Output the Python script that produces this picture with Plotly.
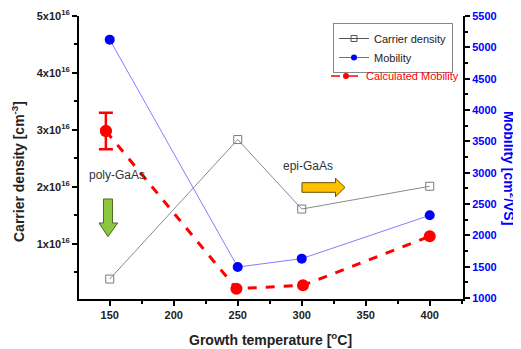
import plotly.graph_objects as go

# ---- data ----
temps = [150, 250, 300, 400]
carrier_density = [0.38e16, 2.83e16, 1.61e16, 2.01e16]
mobility = [5123, 1495, 1629, 2320]
calc_temps = [147, 249, 301, 400]
calc_mobility = [3665, 1150, 1203, 1985]
calc_err_temp = [147]
calc_err_val = [3665]
calc_err = [290]

left_tickvals = [1e16, 2e16, 3e16, 4e16, 5e16]
left_ticktext = ["%dx10<sup>16</sup>" % i for i in range(1, 6)]
right_tickvals = [1000, 1500, 2000, 2500, 3000, 3500, 4000, 4500, 5000, 5500]
x_tickvals = [150, 200, 250, 300, 350, 400]

FONT = "Liberation Sans, Arial, sans-serif"
OFF = 8  # page body margin
W, H = 521 - OFF, 349 - OFF
L, R, T, B = 79 - OFF, 463 - OFF, 16 - OFF, 299 - OFF

def px(x):
    return (x - OFF - L) / (R - L)

def py(y):
    return (B - (y - OFF)) / (B - T)

fig = go.Figure()

fig.add_trace(go.Scatter(
    x=temps, y=carrier_density, name="Carrier density", mode="lines+markers", showlegend=False,
    line=dict(color="#8a8a8a", width=1),
    marker=dict(symbol="square-open", size=8, color="#7a7a7a", line=dict(width=1)),
    yaxis="y"))

fig.add_trace(go.Scatter(
    x=temps, y=mobility, name="Mobility", mode="lines+markers", showlegend=False,
    line=dict(color="#8080ff", width=1),
    marker=dict(symbol="circle", size=10, color="#0000ff"),
    yaxis="y2"))

fig.add_trace(go.Scatter(
    x=calc_temps, y=calc_mobility, name="Calculated Mobility", mode="lines+markers", showlegend=False,
    line=dict(color="#ff0000", width=3, dash="dash"),
    marker=dict(symbol="circle", size=12, color="#ff0000"),
    yaxis="y2"))

fig.add_trace(go.Scatter(
    x=calc_err_temp, y=calc_err_val, mode="markers", showlegend=False,
    marker=dict(size=12, color="#ff0000"),
    error_y=dict(type="data", array=calc_err, color="#ff0000", thickness=2.5, width=7),
    yaxis="y2"))

# legend-only entries with small symbols
fig.add_trace(go.Scatter(x=[None], y=[None], name="Carrier density", mode="lines+markers",
                         line=dict(color="#555555", width=1),
                         marker=dict(symbol="square-open", size=6, color="#555555"),
                         legend="legend"))
fig.add_trace(go.Scatter(x=[None], y=[None], name="Mobility", mode="lines+markers",
                         line=dict(color="#6060ff", width=1),
                         marker=dict(symbol="circle", size=6, color="#0000ff"),
                         legend="legend"))
fig.add_trace(go.Scatter(x=[None], y=[None], name="Calculated Mobility", mode="lines+markers",
                         line=dict(color="#ff0000", width=1.5, dash="dash"),
                         marker=dict(symbol="circle", size=6, color="#ff0000"),
                         legend="legend2"))

# arrows (decorations)
def poly(points):
    return "M " + " L ".join("%.4f,%.4f" % (px(a), py(b)) for a, b in points) + " Z"

green = [(103.5, 199), (112.5, 199), (112.5, 223), (117.7, 223), (108, 236.7), (99, 223), (103.5, 223)]
yellow = [(302, 182.7), (335.5, 182.7), (335.5, 178.3), (345, 187.5), (335.5, 196.7), (335.5, 192.3), (302, 192.3)]

shapes = [
    dict(type="path", xref="paper", yref="paper", path=poly(green),
         fillcolor="#8cc63f", line=dict(color="#4a6a20", width=1)),
    dict(type="path", xref="paper", yref="paper", path=poly(yellow),
         fillcolor="#ffc000", line=dict(color="#6a5000", width=1)),
]

def ann(text, x, y, size, color, angle=0):
    return dict(text=text, x=px(x), y=py(y), xref="paper", yref="paper", showarrow=False,
                xanchor="center", yanchor="middle", textangle=angle,
                font=dict(family=FONT, size=size, color=color))

annotations = [
    ann("poly-GaAs", 117, 175, 12, "#333333"),
    ann("epi-GaAs", 308, 166, 12, "#333333"),
    ann("<b>Growth temperature [<sup>o</sup>C]</b>", 270, 339, 14, "#222222"),
    ann("<b>Carrier density [cm<sup>-3</sup>]</b>", 18, 172, 14, "#222222", -90),
    ann("<b>Mobility [cm<sup>2</sup>/VS]</b>", 510, 168, 14, "#0000ff", 90),
]

axis_common = dict(showline=True, linecolor="black", linewidth=2, showgrid=False, zeroline=False,
                   automargin=False)

fig.update_layout(
    width=W, height=H,
    margin=dict(l=L, r=W - R, t=T, b=H - B, autoexpand=False),
    paper_bgcolor="white", plot_bgcolor="white",
    font=dict(family=FONT),
    shapes=shapes, annotations=annotations,
    xaxis=dict(range=[126, 426], tickvals=x_tickvals, ticks="outside", ticklen=5, tickwidth=1.5,
               tickcolor="black", minor=dict(dtick=25, ticks="outside", ticklen=3, tickcolor="black", tickwidth=1.5),
               tickfont=dict(family=FONT, size=11, color="#222222", weight="bold"), **axis_common),
    xaxis2=dict(range=[126, 426], overlaying="x", side="top", tickvals=x_tickvals, ticks="inside",
                ticklen=5, tickcolor="black", tickwidth=1.5, showticklabels=False,
                minor=dict(dtick=25, ticks="inside", ticklen=3, tickcolor="black", tickwidth=1.5),
                **axis_common),
    yaxis=dict(range=[0.03e16, 5e16], tickvals=left_tickvals, ticktext=left_ticktext,
               ticks="outside", ticklen=5, tickwidth=1.5, tickcolor="black",
               minor=dict(tickvals=[0.5e16, 1.5e16, 2.5e16, 3.5e16, 4.5e16], ticks="outside", ticklen=3,
                          tickcolor="black", tickwidth=1.5),
               tickfont=dict(family=FONT, size=11, color="#222222", weight="bold"), **axis_common),
    yaxis2=dict(range=[985, 5500], overlaying="y", side="right", tickvals=right_tickvals,
                ticks="outside", ticklen=5, tickwidth=1.5, tickcolor="black",
                minor=dict(dtick=250, ticks="outside", ticklen=3, tickcolor="black", tickwidth=1.5),
                tickfont=dict(family=FONT, size=11, color="#0000ff", weight="bold"), **axis_common),
    legend=dict(x=px(333), y=py(23), xanchor="left", yanchor="top", bordercolor="#888888", borderwidth=1,
                bgcolor="white", font=dict(family=FONT, size=11, color="#222222"),
                tracegroupgap=0, itemwidth=30),
    legend2=dict(x=px(326), y=py(76), xanchor="left", yanchor="middle", borderwidth=0,
                 bgcolor="rgba(0,0,0,0)", font=dict(family=FONT, size=11, color="#ff0000"),
                 itemwidth=30),
)

fig.write_html("out.html")
